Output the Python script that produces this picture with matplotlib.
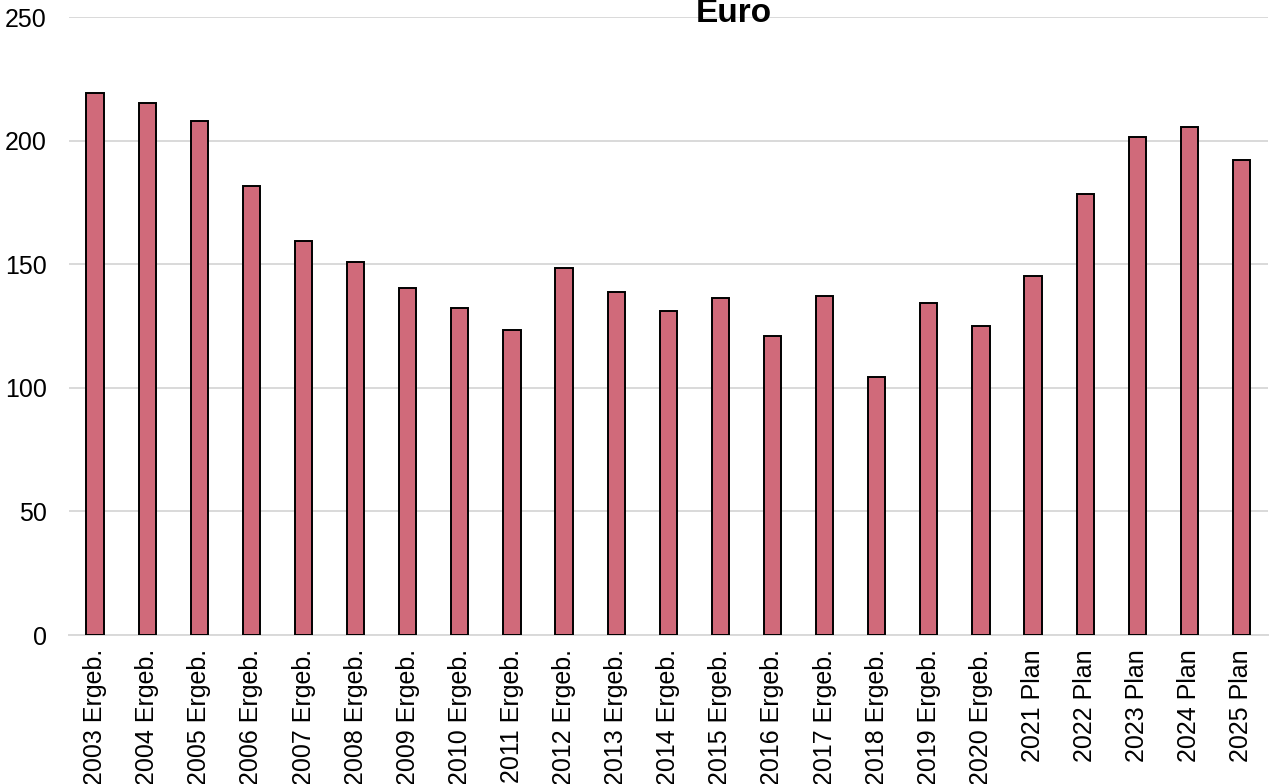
import matplotlib
matplotlib.use("Agg")
import matplotlib.pyplot as plt
import numpy as np

plt.rcParams['font.family'] = ['Liberation Sans', 'DejaVu Sans']

# Werte (Euro) je Jahr
jahre = ['2003 Ergeb.', '2004 Ergeb.', '2005 Ergeb.', '2006 Ergeb.', '2007 Ergeb.',
         '2008 Ergeb.', '2009 Ergeb.', '2010 Ergeb.', '2011 Ergeb.', '2012 Ergeb.',
         '2013 Ergeb.', '2014 Ergeb.', '2015 Ergeb.', '2016 Ergeb.', '2017 Ergeb.',
         '2018 Ergeb.', '2019 Ergeb.', '2020 Ergeb.', '2021 Plan', '2022 Plan',
         '2023 Plan', '2024 Plan', '2025 Plan']
werte = [219.3, 215.2, 208.2, 181.7, 159.4, 150.8, 140.6, 132.3, 123.4, 148.5,
         138.9, 131.1, 136.2, 121.1, 137.1, 104.3, 134.4, 124.9, 145.2, 178.4,
         201.4, 205.6, 192.2]
y_ticks = [0, 50, 100, 150, 200, 250]

fig = plt.figure(figsize=(12.78, 7.84), dpi=100)
ax = fig.add_axes([0.054, 0.19, 0.9378, 0.788])

x = np.arange(len(jahre))
ax.bar(x, werte, width=0.33, color='#D06A7A', edgecolor='black', linewidth=1.4, zorder=3)

ax.set_xlim(-0.5, len(jahre) - 0.5)
ax.set_ylim(0, 250)
ax.set_yticks(y_ticks)
ax.set_xticks(x)
ax.set_xticklabels(jahre, rotation=90, fontsize=18)
ax.tick_params(axis='y', labelsize=18, length=0, pad=16)
ax.tick_params(axis='x', length=0, pad=10)
ax.grid(axis='y', color='#d9d9d9', linewidth=1.4, zorder=0)
for s in ['top', 'right', 'left']:
    ax.spines[s].set_visible(False)
ax.spines['bottom'].set_color('#d9d9d9')
ax.spines['bottom'].set_linewidth(1.4)

fig.text(734 / 1278, 1 - 22 / 784, 'Euro', ha='center', va='baseline',
         fontsize=24, fontweight='bold')

fig.savefig('out.png', dpi=100)
